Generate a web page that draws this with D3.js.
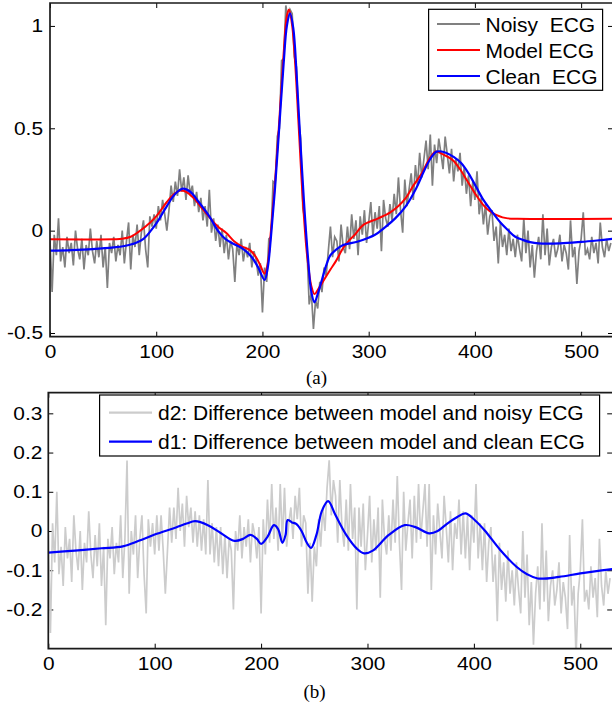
<!DOCTYPE html>
<html><head><meta charset="utf-8">
<script src="https://cdn.jsdelivr.net/npm/d3@7"></script>
<style>body{margin:0;background:#fff}svg{display:block}</style>
</head><body>
<script>
// ---------- DATA ----------
const xTicks = [0, 100, 200, 300, 400, 500];
const yTicksTop = [-0.5, 0, 0.5, 1];
const yTicksBottom = [-0.2, -0.1, 0, 0.1, 0.2, 0.3];
const noisyStep = 2; // sample spacing of noisy / d2 series
const noisyECG = [
 -0.05,-0.30,-0.02,-0.12,0.06,-0.15,-0.08,-0.18,-0.03,-0.11,
 -0.06,-0.17,0.00,-0.09,-0.14,-0.04,-0.19,-0.07,-0.12,0.01,
 -0.10,-0.16,-0.05,-0.13,-0.02,-0.18,-0.08,-0.28,-0.06,-0.11,
 -0.03,-0.15,-0.07,-0.12,0.00,-0.16,-0.05,0.04,-0.19,-0.02,
 -0.08,0.03,-0.12,-0.01,0.05,-0.09,-0.18,0.07,0.02,0.08,
 0.01,0.12,0.05,0.15,0.08,0.00,0.10,0.22,0.14,0.24,
 0.17,0.30,0.19,0.26,0.15,0.27,0.18,0.22,0.12,0.19,
 0.09,0.16,0.05,0.12,0.02,0.20,-0.01,0.06,-0.05,0.03,
 -0.08,0.01,-0.11,-0.02,-0.14,-0.05,-0.09,-0.25,-0.06,-0.12,
 -0.04,-0.15,-0.08,-0.13,-0.06,-0.18,-0.10,-0.14,-0.22,-0.16,
 -0.40,-0.18,-0.25,-0.04,-0.03,0.24,0.23,0.46,0.50,0.83,
 0.84,1.10,1.03,1.08,1.06,0.85,0.80,0.55,0.45,0.11,
 0.05,-0.10,-0.36,-0.30,-0.48,-0.34,-0.38,-0.25,-0.30,-0.18,
 -0.22,-0.10,0.02,-0.13,-0.03,-0.05,-0.15,0.03,-0.08,-0.11,
 0.02,-0.09,0.08,-0.04,0.05,-0.12,0.07,-0.02,0.10,-0.06,
 0.04,0.14,-0.03,0.09,0.01,0.12,-0.10,0.15,0.06,0.02,
 0.13,0.05,0.18,0.08,0.26,0.10,-0.01,0.25,0.12,0.20,
 0.28,0.15,0.32,0.22,0.38,0.26,0.35,0.44,0.30,0.47,
 0.22,0.42,0.33,0.45,0.38,0.30,0.46,0.37,0.28,0.40,
 0.24,0.35,0.29,0.38,0.22,0.31,0.18,0.27,0.12,0.24,
 0.15,0.29,0.08,0.16,0.03,0.13,-0.02,0.07,0.10,-0.05,
 0.02,-0.16,0.04,-0.08,-0.02,-0.12,0.01,-0.10,-0.04,-0.13,
 -0.02,-0.09,-0.15,0.06,-0.11,0.00,-0.18,-0.07,-0.23,-0.10,
 -0.03,-0.14,0.08,-0.12,0.01,-0.17,-0.08,-0.04,-0.13,-0.09,
 -0.02,-0.15,-0.07,-0.11,-0.19,0.05,-0.13,-0.08,-0.26,-0.10,
 -0.04,0.09,-0.12,-0.09,-0.14,-0.03,-0.11,-0.06,-0.16,0.04,
 -0.08,-0.13,-0.04,-0.10,-0.06
];
const modelX = [0,60,68,76,82,90,100,110,117,122,128,135,143,151,158,166,173,180,188,194,198,202,205,208,212,216,220,223,225,228,231,234,238,242,246,249,252,258,264,269,276,282,287,295,309,320,328,335,342,350,357,363,369,379,386,394,401,408,414,420,426,431,440,530];
const modelY = [-0.042,-0.042,-0.04,-0.03,-0.011,0.02,0.07,0.14,0.18,0.195,0.19,0.16,0.11,0.06,0.02,-0.012,-0.05,-0.075,-0.094,-0.13,-0.17,-0.21,-0.16,0.0,0.25,0.55,0.87,1.05,1.08,1.0,0.8,0.52,0.15,-0.12,-0.27,-0.31,-0.29,-0.24,-0.19,-0.15,-0.085,-0.045,-0.02,0.028,0.06,0.088,0.12,0.16,0.22,0.28,0.35,0.386,0.375,0.345,0.3,0.233,0.175,0.125,0.095,0.077,0.065,0.06,0.058,0.058];
const cleanX = [0,20,40,60,70,80,88,95,102,110,118,125,132,140,150,158,165,173,182,190,196,202,205,208,212,216,220,223,226,229,232,235,239,243,246,249,252,256,260,264,269,276,290,306,315,325,335,345,352,358,364,372,380,387,394,401,408,416,424,431,438,445,452,460,480,500,515,530];
const cleanY = [-0.098,-0.095,-0.09,-0.082,-0.075,-0.062,-0.04,0.0,0.05,0.12,0.18,0.205,0.19,0.14,0.07,0.0,-0.04,-0.065,-0.09,-0.13,-0.18,-0.24,-0.18,-0.03,0.22,0.52,0.82,1.0,1.062,0.99,0.78,0.5,0.15,-0.14,-0.3,-0.35,-0.31,-0.24,-0.17,-0.12,-0.094,-0.07,-0.053,-0.02,0.015,0.06,0.12,0.21,0.29,0.35,0.386,0.382,0.36,0.33,0.28,0.215,0.15,0.093,0.04,0.003,-0.03,-0.045,-0.056,-0.062,-0.062,-0.055,-0.048,-0.04];
const d2Noisy = [
 -0.01,-0.26,0.02,-0.08,0.10,-0.11,-0.04,-0.14,0.01,-0.07,
 -0.02,-0.13,0.04,-0.05,-0.10,0.00,-0.15,-0.03,-0.08,0.05,
 -0.06,-0.12,-0.01,-0.09,0.02,-0.14,-0.04,-0.24,-0.02,-0.07,
 0.01,-0.11,-0.03,-0.08,0.04,-0.12,-0.02,0.18,-0.16,0.00,
 -0.06,0.04,-0.12,-0.02,0.04,-0.11,-0.21,0.03,-0.04,0.02,
 -0.06,0.04,-0.05,0.04,-0.05,-0.16,-0.05,0.06,-0.03,0.06,
 -0.02,0.11,0.00,0.07,-0.04,0.09,0.01,0.06,-0.03,0.05,
 -0.04,0.04,-0.05,0.03,-0.06,0.13,-0.06,0.02,-0.08,0.01,
 -0.09,0.01,-0.11,-0.01,-0.12,-0.02,-0.05,-0.20,0.00,-0.05,
 0.04,-0.07,0.01,-0.04,0.03,-0.08,0.02,-0.01,-0.07,0.01,
 -0.21,0.03,-0.06,0.08,-0.03,0.12,-0.02,0.06,-0.05,0.12,
 -0.03,0.11,-0.04,0.02,0.06,-0.02,0.09,0.03,0.11,-0.04,
 0.04,0.02,-0.16,-0.03,-0.18,-0.04,-0.09,0.03,-0.04,0.06,
 0.00,0.11,0.18,0.04,0.13,0.09,-0.03,0.13,0.01,-0.04,
 0.08,-0.05,0.12,-0.02,0.06,-0.20,0.06,-0.04,0.07,-0.10,
 -0.01,0.09,-0.08,0.03,-0.05,0.06,-0.17,0.08,-0.02,-0.06,
 0.04,-0.05,0.08,-0.03,0.14,-0.03,-0.15,0.10,-0.05,0.02,
 0.08,-0.07,0.09,-0.03,0.12,-0.02,0.05,0.12,-0.04,0.12,
 -0.15,0.04,-0.06,0.07,0.00,-0.07,0.09,0.01,-0.08,0.05,
 -0.10,0.02,-0.02,0.08,-0.06,0.05,-0.07,0.04,-0.10,0.04,
 -0.03,0.12,-0.07,0.02,-0.10,0.02,-0.13,-0.03,0.01,-0.13,
 -0.06,-0.23,-0.03,-0.15,-0.08,-0.18,-0.05,-0.16,-0.10,-0.19,
 -0.08,-0.15,-0.21,0.00,-0.17,-0.06,-0.24,-0.13,-0.29,-0.16,
 -0.09,-0.20,0.02,-0.18,-0.05,-0.23,-0.14,-0.10,-0.19,-0.15,
 -0.08,-0.21,-0.13,-0.17,-0.25,-0.01,-0.19,-0.14,-0.32,-0.16,
 -0.10,0.03,-0.18,-0.15,-0.20,-0.09,-0.17,-0.12,-0.22,-0.02,
 -0.14,-0.19,-0.10,-0.16,-0.12
];
const d1X = [0,25,50,70,85,100,120,130,138,150,162,175,183,190,196,200,206,212,216,220,223,225,229,233,238,243,247,252,257,263,270,280,290,297,305,320,335,345,358,366,375,384,392,400,410,425,440,450,460,480,500,530];
const d1Y = [-0.055,-0.05,-0.044,-0.039,-0.025,-0.009,0.009,0.019,0.025,0.015,-0.005,-0.025,-0.02,-0.01,-0.02,-0.033,-0.015,0.015,0.005,-0.03,-0.01,0.028,0.022,0.018,0.0,-0.03,-0.043,-0.01,0.05,0.076,0.04,-0.01,-0.045,-0.057,-0.05,-0.01,0.015,0.01,-0.006,0.0,0.019,0.035,0.045,0.03,0.002,-0.049,-0.091,-0.11,-0.121,-0.117,-0.108,-0.097];
const legendTop = ["Noisy  ECG", "Model ECG", "Clean  ECG"];
const legendBottom = ["d2: Difference between model and noisy ECG", "d1: Difference between model and clean ECG"];
const captions = ["(a)", "(b)"];

// ---------- DRAW ----------
const W = 612, H = 704;
const svg = d3.select("body").append("svg").attr("width", W).attr("height", H);
const FONT = "'Liberation Sans', Arial, Helvetica, sans-serif";
const SX = 1.13; // horizontal stretch of tick labels
const fmt = d => (d < 0 ? "-" : "") + String(Math.abs(d));

function panel(cfg) {
  const {x, y, yTicks, labelPad, id} = cfg;
  const [x0, x1] = x.range(), [yb, yt] = y.range();
  svg.append("clipPath").attr("id", id).append("rect")
    .attr("x", x0).attr("y", yt).attr("width", x1 - x0).attr("height", yb - yt);
  const g = svg.append("g");
  const ax = g.append("g").attr("transform", `translate(0,${yb})`)
    .call(d3.axisBottom(x).tickValues(xTicks).tickSizeInner(-5).tickSizeOuter(0).tickPadding(8).tickFormat(fmt));
  const axT = g.append("g").attr("transform", `translate(0,${yt})`)
    .call(d3.axisTop(x).tickValues(xTicks).tickSizeInner(-5).tickSizeOuter(0).tickFormat(""));
  const ay = g.append("g").attr("transform", `translate(${x0},0)`)
    .call(d3.axisLeft(y).tickValues(yTicks).tickSizeInner(-5).tickSizeOuter(0).tickPadding(labelPad).tickFormat(fmt));
  const ayR = g.append("g").attr("transform", `translate(${x1},0)`)
    .call(d3.axisRight(y).tickValues(yTicks).tickSizeInner(-5).tickSizeOuter(0).tickFormat(""));
  [ax, axT, ay, ayR].forEach(a => {
    a.select(".domain").remove();
    a.selectAll("line").attr("stroke", "#000").attr("stroke-width", 1);
    a.selectAll("text").attr("fill", "#000").style("font-family", FONT).style("font-size", "18.5px");
  });
  ax.selectAll("text").attr("transform", `scale(${SX},1)`);
  ay.selectAll("text").attr("x", -labelPad / SX).attr("transform", `scale(${SX},1)`);
  const lines = svg.append("g").attr("clip-path", `url(#${id})`);
  svg.append("path")
    .attr("d", `M${x1},${yt}H${x0}V${yb}H${x1}`)
    .attr("fill", "none").attr("stroke", "#1a1a1a").attr("stroke-width", 1.7);
  return lines;
}

// top panel
const xA = d3.scaleLinear([0, 530], [50, 613]);
const yA = d3.scaleLinear([-0.518, 1.112], [336.7, 3]);
const gA = panel({x: xA, y: yA, yTicks: yTicksTop, labelPad: 7, id: "clipA"});
const lineNoisyA = d3.line().x((d, i) => xA(i * noisyStep)).y(d => yA(d));
const smoothA = d3.line().x(d => xA(d[0])).y(d => yA(d[1])).curve(d3.curveCatmullRom.alpha(0.5));
gA.append("path").attr("d", lineNoisyA(noisyECG)).attr("fill", "none").attr("stroke", "#808080").attr("stroke-width", 1.7);
gA.append("path").attr("d", smoothA(d3.zip(modelX, modelY))).attr("fill", "none").attr("stroke", "#ff0000").attr("stroke-width", 2);
gA.append("path").attr("d", smoothA(d3.zip(cleanX, cleanY))).attr("fill", "none").attr("stroke", "#0000ff").attr("stroke-width", 2.2);

// bottom panel
const xB = d3.scaleLinear([0, 530], [48.3, 612.2]);
const yB = d3.scaleLinear([-0.3, 0.3526], [648.7, 392.7]);
const gB = panel({x: xB, y: yB, yTicks: yTicksBottom, labelPad: 6, id: "clipB"});
const lineNoisyB = d3.line().x((d, i) => xB(i * noisyStep)).y(d => yB(d));
const smoothB = d3.line().x(d => xB(d[0])).y(d => yB(d[1])).curve(d3.curveCatmullRom.alpha(0.5));
gB.append("path").attr("d", lineNoisyB(d2Noisy)).attr("fill", "none").attr("stroke", "#cccccc").attr("stroke-width", 1.7);
gB.append("path").attr("d", smoothB(d3.zip(d1X, d1Y))).attr("fill", "none").attr("stroke", "#0000ff").attr("stroke-width", 2.2);

// legends
function legend(box, rows, items, colors, lx0, lx1, tx) {
  const g = svg.append("g");
  g.append("rect").attr("x", box[0]).attr("y", box[1]).attr("width", box[2]).attr("height", box[3])
    .attr("fill", "#fff").attr("stroke", "#000").attr("stroke-width", 1.2);
  items.forEach((t, i) => {
    g.append("line").attr("x1", lx0).attr("x2", lx1).attr("y1", rows[i]).attr("y2", rows[i])
      .attr("stroke", colors[i]).attr("stroke-width", 2.2);
    g.append("text").attr("x", tx).attr("y", rows[i]).attr("dy", "0.36em")
      .style("font-family", FONT).style("font-size", "21px").style("white-space", "pre")
      .attr("fill", "#000").text(t);
  });
}
legend([428.6, 9.3, 174, 81], [24, 50, 76], legendTop, ["#808080", "#ff0000", "#0000ff"], 437, 480, 485.5);
legend([99.6, 395, 500, 61], [412.7, 441.7], legendBottom, ["#cccccc", "#0000ff"], 109, 152, 158);

// captions
const SERIF = "'Liberation Serif', 'Times New Roman', serif";
svg.append("text").attr("x", 316.5).attr("y", 383.5).attr("text-anchor", "middle")
  .style("font-family", SERIF).style("font-size", "19px").text(captions[0]);
svg.append("text").attr("x", 314.5).attr("y", 697.5).attr("text-anchor", "middle")
  .style("font-family", SERIF).style("font-size", "19px").text(captions[1]);
</script>
</body></html>
